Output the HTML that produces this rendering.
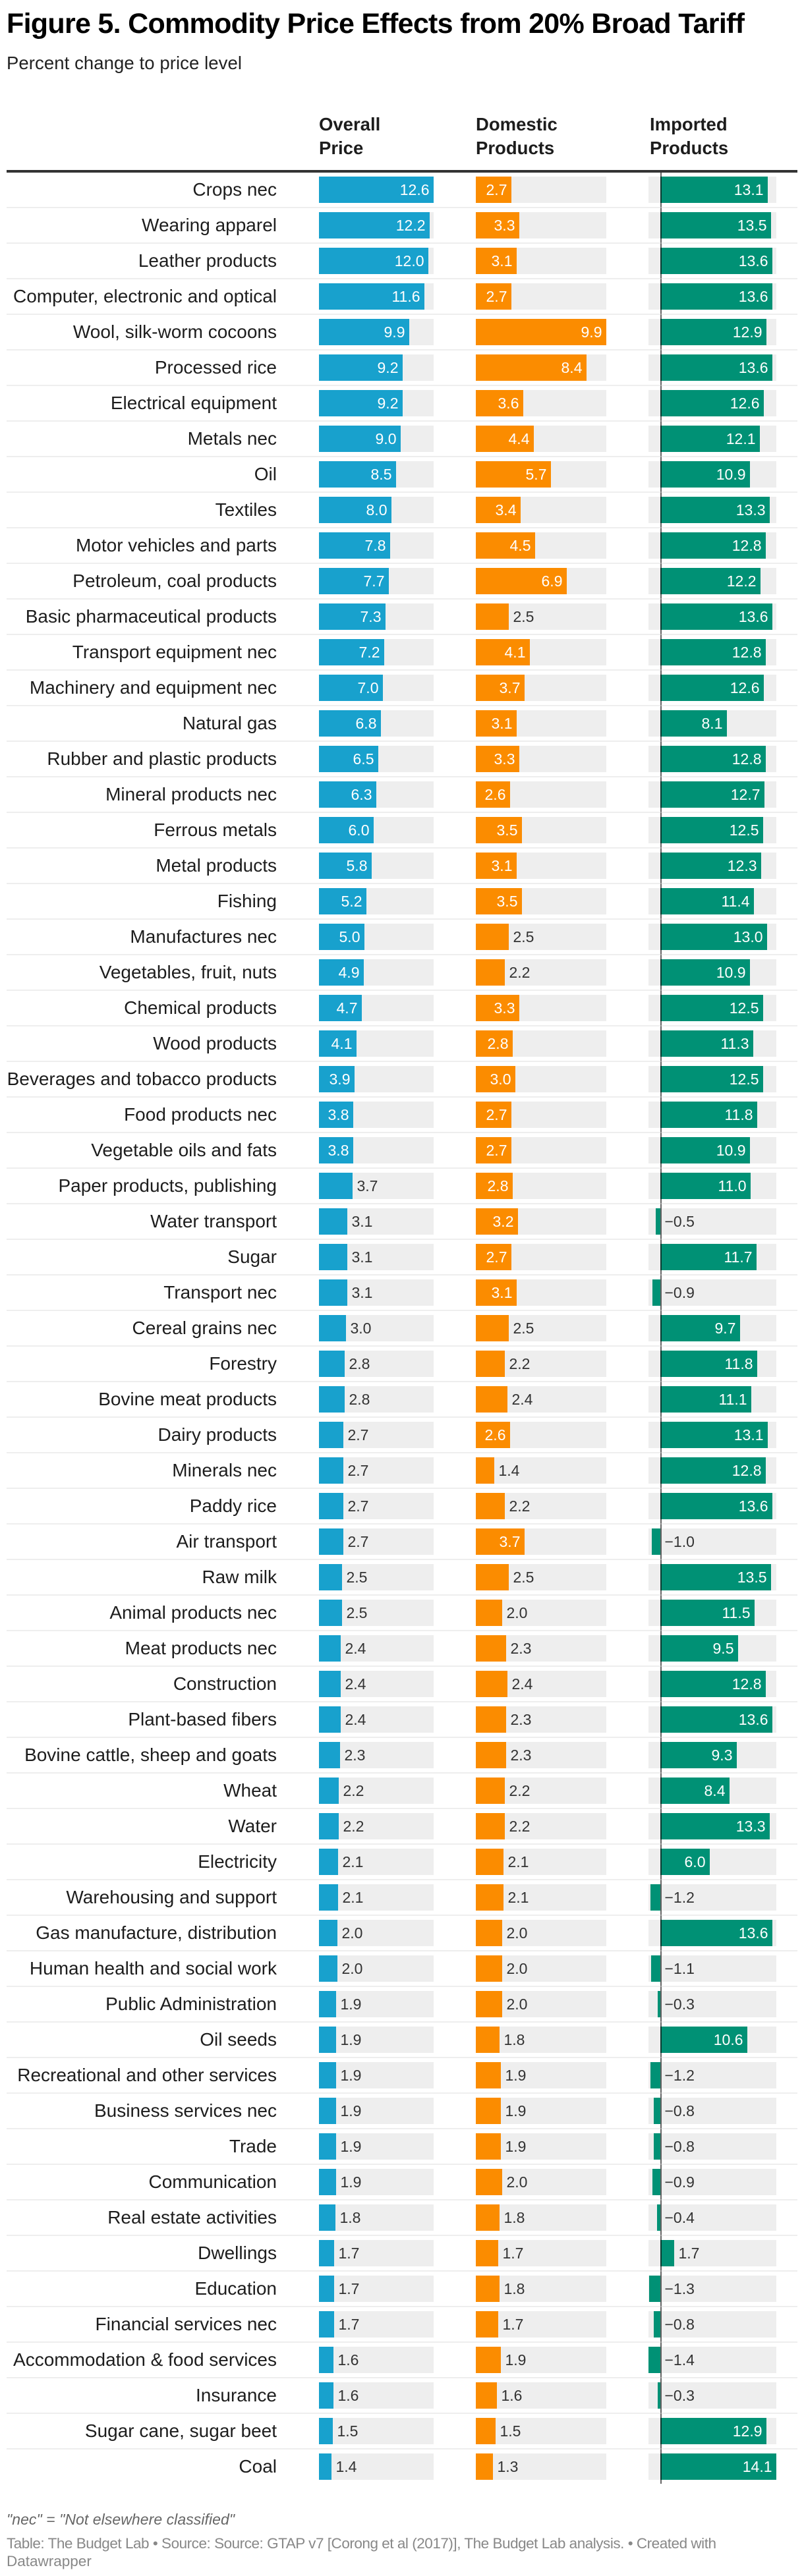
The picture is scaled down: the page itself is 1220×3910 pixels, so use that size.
<!DOCTYPE html>
<html lang="en">
<head>
<meta charset="utf-8">
<title>Figure 5. Commodity Price Effects from 20% Broad Tariff</title>
<style>
  html, body { margin: 0; padding: 0; background: #fff; }
  body { width: 1220px; height: 3910px; overflow: hidden; }
  svg { display: block; font-family: "Liberation Sans", Arial, sans-serif; }
</style>
</head>
<body>
<svg id="chart" xmlns="http://www.w3.org/2000/svg" width="1220" height="3910" viewBox="0 0 1220 3910">
  <rect x="0" y="0" width="1220" height="3910" fill="#fff"/>
  <text x="10" y="50" font-size="43" font-weight="700" fill="#000" textLength="1120" lengthAdjust="spacing">Figure 5. Commodity Price Effects from 20% Broad Tariff</text>
  <text x="10" y="105" font-size="27.5" fill="#222" textLength="357" lengthAdjust="spacing">Percent change to price level</text>

  <g font-size="27.5" font-weight="700" fill="#1d1d1d">
    <text x="484" y="198">Overall</text>
    <text x="484" y="234">Price</text>
    <text x="722" y="198">Domestic</text>
    <text x="722" y="234">Products</text>
    <text x="986" y="198">Imported</text>
    <text x="986" y="234">Products</text>
  </g>
  <rect x="10" y="258" width="1200" height="4" fill="#333"/>

  <g id="rows"></g>

  <text x="10" y="3832" font-size="23" font-style="italic" fill="#666" textLength="346" lengthAdjust="spacing">"nec" = "Not elsewhere classified"</text>
  <text x="10" y="3868" font-size="22.5" fill="#888" textLength="1077" lengthAdjust="spacing">Table: The Budget Lab • Source: Source: GTAP v7 [Corong et al (2017)], The Budget Lab analysis. • Created with</text>
  <text x="10" y="3895" font-size="22.5" fill="#888">Datawrapper</text>
</svg>

<script>
const categories = ["Crops nec","Wearing apparel","Leather products","Computer, electronic and optical","Wool, silk-worm cocoons","Processed rice","Electrical equipment","Metals nec","Oil","Textiles","Motor vehicles and parts","Petroleum, coal products","Basic pharmaceutical products","Transport equipment nec","Machinery and equipment nec","Natural gas","Rubber and plastic products","Mineral products nec","Ferrous metals","Metal products","Fishing","Manufactures nec","Vegetables, fruit, nuts","Chemical products","Wood products","Beverages and tobacco products","Food products nec","Vegetable oils and fats","Paper products, publishing","Water transport","Sugar","Transport nec","Cereal grains nec","Forestry","Bovine meat products","Dairy products","Minerals nec","Paddy rice","Air transport","Raw milk","Animal products nec","Meat products nec","Construction","Plant-based fibers","Bovine cattle, sheep and goats","Wheat","Water","Electricity","Warehousing and support","Gas manufacture, distribution","Human health and social work","Public Administration","Oil seeds","Recreational and other services","Business services nec","Trade","Communication","Real estate activities","Dwellings","Education","Financial services nec","Accommodation & food services","Insurance","Sugar cane, sugar beet","Coal"];
const overallValues = [12.6,12.2,12.0,11.6,9.9,9.2,9.2,9.0,8.5,8.0,7.8,7.7,7.3,7.2,7.0,6.8,6.5,6.3,6.0,5.8,5.2,5.0,4.9,4.7,4.1,3.9,3.8,3.8,3.7,3.1,3.1,3.1,3.0,2.8,2.8,2.7,2.7,2.7,2.7,2.5,2.5,2.4,2.4,2.4,2.3,2.2,2.2,2.1,2.1,2.0,2.0,1.9,1.9,1.9,1.9,1.9,1.9,1.8,1.7,1.7,1.7,1.6,1.6,1.5,1.4];
const domesticValues = [2.7,3.3,3.1,2.7,9.9,8.4,3.6,4.4,5.7,3.4,4.5,6.9,2.5,4.1,3.7,3.1,3.3,2.6,3.5,3.1,3.5,2.5,2.2,3.3,2.8,3.0,2.7,2.7,2.8,3.2,2.7,3.1,2.5,2.2,2.4,2.6,1.4,2.2,3.7,2.5,2.0,2.3,2.4,2.3,2.3,2.2,2.2,2.1,2.1,2.0,2.0,2.0,1.8,1.9,1.9,1.9,2.0,1.8,1.7,1.8,1.7,1.9,1.6,1.5,1.3];
const importedValues = [13.1,13.5,13.6,13.6,12.9,13.6,12.6,12.1,10.9,13.3,12.8,12.2,13.6,12.8,12.6,8.1,12.8,12.7,12.5,12.3,11.4,13.0,10.9,12.5,11.3,12.5,11.8,10.9,11.0,-0.5,11.7,-0.9,9.7,11.8,11.1,13.1,12.8,13.6,-1.0,13.5,11.5,9.5,12.8,13.6,9.3,8.4,13.3,6.0,-1.2,13.6,-1.1,-0.3,10.6,-1.2,-0.8,-0.8,-0.9,-0.4,1.7,-1.3,-0.8,-1.4,-0.3,12.9,14.1];

const NS = "http://www.w3.org/2000/svg";
const rowsGroup = document.getElementById("rows");
const ROW_TOP = 262, ROW_PITCH = 54, ROW_H = 52, BAR_OFFSET = 6, BAR_H = 40;
const MIN_INSIDE_WIDTH = 52;

function linearScale(d0, d1, r0, r1) {
  return function (v) { return Math.round(r0 + (v - d0) / (d1 - d0) * (r1 - r0)); };
}
function domainOf(values) {
  return [Math.min(0, Math.min.apply(null, values)), Math.max.apply(null, values)];
}
function make(tag, attrs, parent) {
  const el = document.createElementNS(NS, tag);
  Object.keys(attrs).forEach(function (k) { el.setAttribute(k, attrs[k]); });
  parent.appendChild(el);
  return el;
}
function formatValue(v) {
  return (v < 0 ? "\u2212" : "") + Math.abs(v).toFixed(1);
}

const overallDomain = domainOf(overallValues);
const domesticDomain = domainOf(domesticValues);
const importedDomain = domainOf(importedValues);
const columns = [
  { key: "overall", values: overallValues, color: "#18a1cd", x0: 484, x1: 658, scale: linearScale(overallDomain[0], overallDomain[1], 484, 658) },
  { key: "domestic", values: domesticValues, color: "#fb8c00", x0: 722, x1: 920, scale: linearScale(domesticDomain[0], domesticDomain[1], 722, 920) },
  { key: "imported", values: importedValues, color: "#009175", x0: 984, x1: 1178, scale: linearScale(importedDomain[0], importedDomain[1], 984, 1178) }
];

categories.forEach(function (name, i) {
  const top = ROW_TOP + i * ROW_PITCH;
  const barY = top + BAR_OFFSET;
  const baseline = barY + 28;

  const row = make("g", {}, rowsGroup);
  
  

  const label = make("text", { x: 420, y: baseline + 1, "text-anchor": "end", "font-size": 28, fill: "#1d1d1d" }, row);
  label.textContent = name;
  
  

  columns.forEach(function (col) {
    const v = col.values[i];
    const zero = col.scale(0);
    const vx = col.scale(v);
    const left = Math.min(zero, vx);
    const right = Math.max(zero, vx);

    const track = make("rect", { x: col.x0, y: barY, width: col.x1 - col.x0, height: BAR_H, fill: "#eeeeee" }, row);
    
    

    const bar = make("rect", { x: left, y: barY, width: right - left, height: BAR_H, fill: col.color }, row);
    
    

    const inside = v > 0 && (right - left) >= MIN_INSIDE_WIDTH;
    const textX = inside ? right - 6.5 : Math.max(zero, right) + 6.5;
    const text = make("text", { x: textX, y: baseline, "text-anchor": inside ? "end" : "start", "font-size": 23, fill: inside ? "#ffffff" : "#333333" }, row);
    text.textContent = formatValue(v);
    
    
  });

  const zeroX = columns[2].scale(0);
  const zeroLine = make("rect", { x: zeroX, y: top, width: 2, height: ROW_H, fill: "rgba(0,0,0,0.6)" }, row);
  
  

  if (i < categories.length - 1) {
    const sep = make("rect", { x: 10, y: top + ROW_H, width: 1200, height: 2, fill: "#eeeeee" }, row);
    
    
    const sepLine = make("rect", { x: zeroX, y: top + ROW_H, width: 2, height: 2, fill: "rgba(0,0,0,0.4)" }, row);
    
    
  }
});
</script>
</body>
</html>
